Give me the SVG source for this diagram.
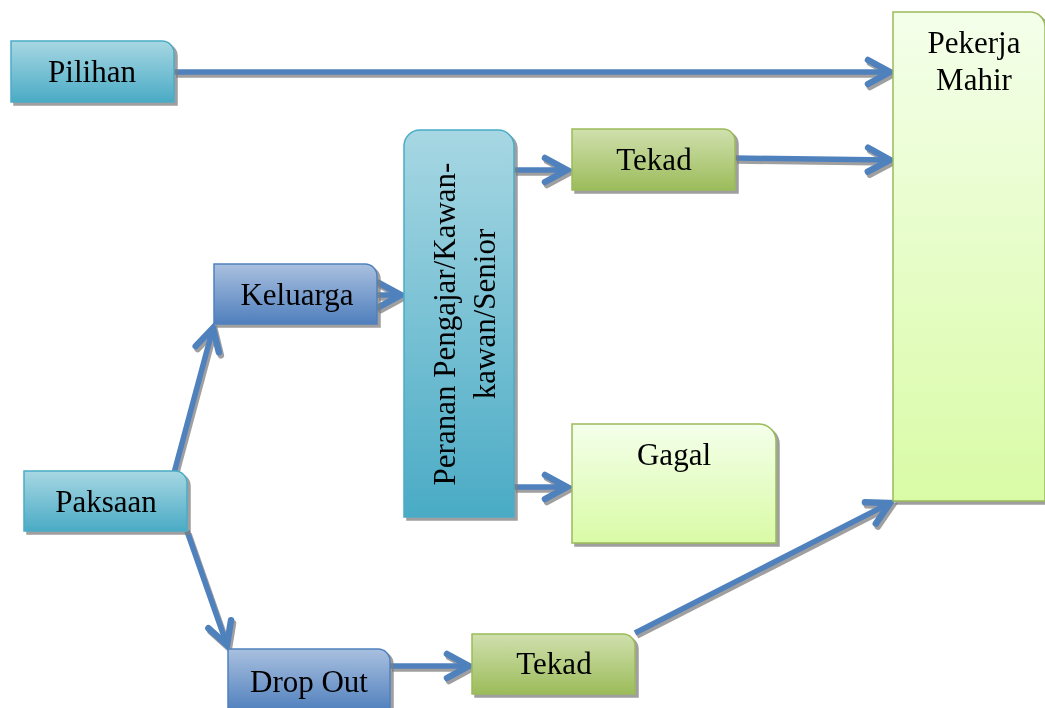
<svg xmlns="http://www.w3.org/2000/svg" width="1045" height="708" viewBox="0 0 1045 708">
<style>
  .t { font-family: "Liberation Serif", "Times New Roman", serif; font-size: 31px; fill: #000; text-anchor: middle; }
  .con { fill: none; stroke: #4f81bd; stroke-width: 5.5; marker-end: url(#arr); }
  .aqua { fill: url(#gAqua); stroke: #4bacc6; stroke-width: 1.5; }
  .blue { fill: url(#gBlue); stroke: #4f81bd; stroke-width: 1.5; }
  .green { fill: url(#gGreen); stroke: #9bbb59; stroke-width: 1.5; }
  .lime { fill: url(#gLime); stroke: #9bbb59; stroke-width: 1.5; }
</style>
<defs>
  <linearGradient id="gAqua" x1="0" y1="0" x2="0" y2="1">
    <stop offset="0" stop-color="#a7d7e3"/>
    <stop offset="1" stop-color="#4aabc5"/>
  </linearGradient>
  <linearGradient id="gBlue" x1="0" y1="0" x2="0" y2="1">
    <stop offset="0" stop-color="#a9c0df"/>
    <stop offset="1" stop-color="#4f7fbd"/>
  </linearGradient>
  <linearGradient id="gGreen" x1="0" y1="0" x2="0" y2="1">
    <stop offset="0" stop-color="#d0e0ae"/>
    <stop offset="1" stop-color="#9cbc5a"/>
  </linearGradient>
  <linearGradient id="gLime" x1="0" y1="0" x2="0" y2="1">
    <stop offset="0" stop-color="#f4ffea"/>
    <stop offset="1" stop-color="#d9fba6"/>
  </linearGradient>
  <filter id="sh" x="-10%" y="-10%" width="130%" height="130%">
    <feDropShadow dx="3" dy="3" stdDeviation="0.6" flood-color="#7f7f7f" flood-opacity="0.75"/>
  </filter>
  <filter id="shc" x="-10%" y="-30%" width="130%" height="160%">
    <feDropShadow dx="2" dy="3" stdDeviation="0.6" flood-color="#7f7f7f" flood-opacity="0.75"/>
  </filter>
  <marker id="arr" markerUnits="userSpaceOnUse" markerWidth="40" markerHeight="40" viewBox="-30 -20 40 40" refX="0" refY="0" orient="auto">
    <path d="M-22,-12 L0,0 L-22,12" fill="none" stroke="#4f81bd" stroke-width="6.5" stroke-linecap="round" stroke-linejoin="miter"/>
  </marker>
</defs>

<g id="connectors" filter="url(#shc)">
  <path class="con" d="M174,72 L890,72"/>
  <path class="con" d="M735,158 L890,160"/>
  <path class="con" d="M514,170 L567,170"/>
  <path class="con" d="M514,487 L567,487"/>
  <path class="con" d="M377,295 L401,295"/>
  <path class="con" d="M174,473 L213,328"/>
  <path class="con" d="M187,531 L227,645"/>
  <path class="con" d="M390,666 L469,666"/>
  <path class="con" d="M635,633 L890,503"/>
</g>

<g id="pilihan" filter="url(#sh)">
  <path class="aqua" d="M11,41 H162 A12,12 0 0 1 174,53 V102 H11 Z"/>
  <text class="t" x="92" y="82">Pilihan</text>
</g>

<g id="pekerja-mahir" filter="url(#sh)">
  <path class="lime" d="M893,12 H1030 A15,15 0 0 1 1045,27 V501 H893 Z"/>
  <text class="t" x="974" y="53">Pekerja</text>
  <text class="t" x="974" y="90">Mahir</text>
</g>

<g id="peranan" filter="url(#sh)">
  <path class="aqua" d="M404,146 A16,16 0 0 1 420,130 H498 A16,16 0 0 1 514,146 V517 H404 Z"/>
  <text class="t" transform="translate(455,324) rotate(-90)">Peranan Pengajar/Kawan-</text>
  <text class="t" transform="translate(495,314) rotate(-90)">kawan/Senior</text>
</g>

<g id="tekad-top" filter="url(#sh)">
  <path class="green" d="M572,129 H723 A12,12 0 0 1 735,141 V190 H572 Z"/>
  <text class="t" x="654" y="170">Tekad</text>
</g>

<g id="keluarga" filter="url(#sh)">
  <path class="blue" d="M214,264 H365 A12,12 0 0 1 377,276 V324 H214 Z"/>
  <text class="t" x="297" y="305">Keluarga</text>
</g>

<g id="gagal" filter="url(#sh)">
  <path class="lime" d="M572,424 H759 A17,17 0 0 1 776,441 V543 H572 Z"/>
  <text class="t" x="674" y="465">Gagal</text>
</g>

<g id="paksaan" filter="url(#sh)">
  <path class="aqua" d="M24,471 H175 A12,12 0 0 1 187,483 V531 H24 Z"/>
  <text class="t" x="106" y="512">Paksaan</text>
</g>

<g id="drop-out" filter="url(#sh)">
  <path class="blue" d="M228,649 H378 A12,12 0 0 1 390,661 V712 H228 Z"/>
  <text class="t" x="309" y="692">Drop Out</text>
</g>

<g id="tekad-bottom" filter="url(#sh)">
  <path class="green" d="M472,634 H623 A12,12 0 0 1 635,646 V694 H472 Z"/>
  <text class="t" x="554" y="674">Tekad</text>
</g>
</svg>
